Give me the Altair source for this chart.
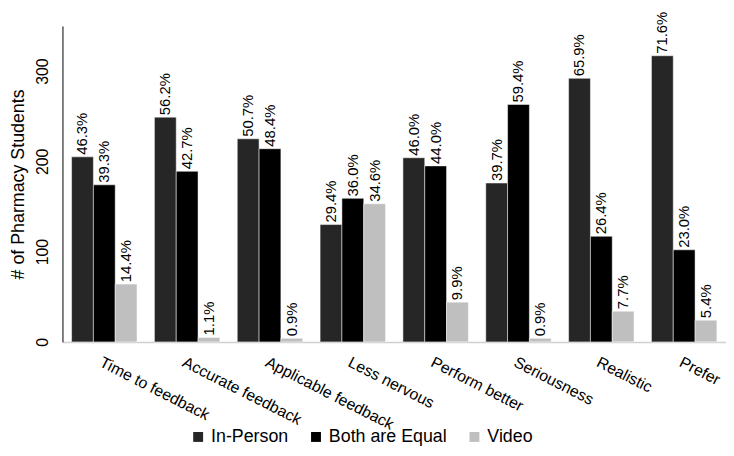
import altair as alt
import pandas as pd

categories = ["Time to feedback", "Accurate feedback", "Applicable feedback", "Less nervous",
              "Perform better", "Seriousness", "Realistic", "Prefer"]
series = ["In-Person", "Both are Equal", "Video"]
in_person = [205, 249, 225, 130, 204, 176, 292, 317]
both_equal = [174, 189, 214, 159, 195, 263, 117, 102]
video = [64, 5, 4, 153, 44, 4, 34, 24]
pct_in_person = ["46.3%", "56.2%", "50.7%", "29.4%", "46.0%", "39.7%", "65.9%", "71.6%"]
pct_both_equal = ["39.3%", "42.7%", "48.4%", "36.0%", "44.0%", "59.4%", "26.4%", "23.0%"]
pct_video = ["14.4%", "1.1%", "0.9%", "34.6%", "9.9%", "0.9%", "7.7%", "5.4%"]
colors = ["#262626", "#000000", "#bfbfbf"]

rows = []
for vals, pcts, s in [(in_person, pct_in_person, series[0]),
                      (both_equal, pct_both_equal, series[1]),
                      (video, pct_video, series[2])]:
    for c, v, p in zip(categories, vals, pcts):
        rows.append({"Category": c, "Series": s, "Count": v, "Pct": p})
df = pd.DataFrame(rows)

FONT = "Liberation Sans"

x = alt.X("Category:N", sort=categories, title=None,
          scale=alt.Scale(paddingInner=0.21, paddingOuter=0.11),
          axis=alt.Axis(labelAngle=27, labelAlign="left", labelBaseline="top",
                        labelPadding=12, ticks=False, domainColor="#d0d0d0",
                        domainWidth=1.5, labelFontSize=16, labelColor="#000",
                        labelFont=FONT, labelLimit=300))
xo = alt.XOffset("Series:N", sort=series, scale=alt.Scale(paddingInner=0, paddingOuter=0))
y = alt.Y("Count:Q", title="# of Pharmacy Students",
          scale=alt.Scale(domain=[0, 350], nice=False),
          axis=alt.Axis(values=[0, 100, 200, 300], grid=False, ticks=False,
                        domainColor="#000", labelAngle=270, labelAlign="center",
                        labelBaseline="bottom", labelPadding=12, labelFontSize=16,
                        labelColor="#000", labelFont=FONT, titleFont=FONT,
                        titleFontSize=18, titleFontWeight="normal", titleColor="#000",
                        titlePadding=7))
color = alt.Color("Series:N", sort=series,
                  scale=alt.Scale(domain=series, range=colors),
                  legend=alt.Legend(title=None, orient="none", direction="horizontal",
                                    legendX=128, legendY=406, symbolType="square",
                                    symbolSize=100, symbolStrokeWidth=0,
                                    labelFontSize=18, labelFont=FONT, labelColor="#000",
                                    columnPadding=18, labelOffset=4))

bars = alt.Chart(df).mark_bar(stroke="#ffffff", strokeWidth=0.5).encode(
    x=x, xOffset=xo, y=y, color=color)
labels = alt.Chart(df).mark_text(angle=270, align="left", baseline="middle", dx=2,
                                 fontSize=15, font=FONT, color="#000").encode(
    x=x, xOffset=xo, y=y, text="Pct:N")

chart = (bars + labels).properties(
    width=670, height=319,
    padding={"left": 55, "top": 16, "right": 0, "bottom": 105},
    autosize=alt.AutoSizeParams(type="none"),
).configure_view(stroke=None)

chart.save("out.html", embed_options={"renderer": "svg", "actions": False})
